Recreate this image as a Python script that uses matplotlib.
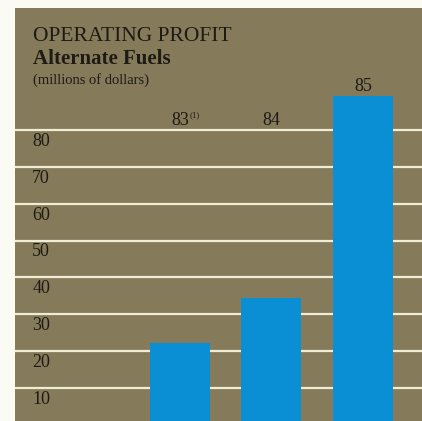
import numpy as np
import matplotlib.pyplot as plt

years = ['83', '84', '85']
year_notes = ['(1)', '', '']
profit = [22.2, 34.4, 89.2]
grid_values = [10, 20, 30, 40, 50, 60, 70, 80]

W, H = 422, 421
paper = '#fbfaf3'
khaki = '#857b5a'
bar_blue = '#0b8fd4'
rule = '#f1ecd6'
ink = '#1e1a14'

plt.rcParams['font.family'] = ['Liberation Serif', 'DejaVu Serif']

fig = plt.figure(figsize=(W / 100, H / 100), dpi=100, facecolor=paper)

# tan panel, open on right and bottom
ax = fig.add_axes([15 / W, 0, 1 - 15 / W, 1 - 8 / H])
ax.set_facecolor(khaki)
for s in ax.spines.values():
    s.set_visible(False)
ax.set_xticks([])
ax.set_yticks([])

x = np.arange(len(years))
ax.set_xlim(-1.803, 2.645)
ax.set_ylim(1.1, 113.0)

for v in grid_values:
    ax.axhline(v, color=rule, lw=1.6, zorder=1)
    ax.text(-1.615, v - 3.1, str(v), ha='left', va='center',
            fontsize=13, color=ink, zorder=3)

ax.bar(x, profit, width=0.656, color=bar_blue, zorder=2)

for xi, yr, note, v in zip(x, years, year_notes, profit):
    ly = max(v, 80) + 2.6
    ax.text(xi, ly, yr, ha='center', va='center', fontsize=13, color=ink)
    if note:
        ax.text(xi + 0.1, ly + 1.3, note, ha='left', va='center',
                fontsize=6.5, color=ink)

fig.text(33 / W, 1 - 41 / H, 'OPERATING PROFIT', ha='left', va='baseline',
         fontsize=15.5, color=ink)
fig.text(33 / W, 1 - 64 / H, 'Alternate Fuels', ha='left', va='baseline',
         fontsize=15, fontweight='bold', color=ink)
fig.text(33 / W, 1 - 84 / H, '(millions of dollars)', ha='left', va='baseline',
         fontsize=10.5, color=ink)

fig.savefig('out.png', dpi=100, facecolor=paper)
